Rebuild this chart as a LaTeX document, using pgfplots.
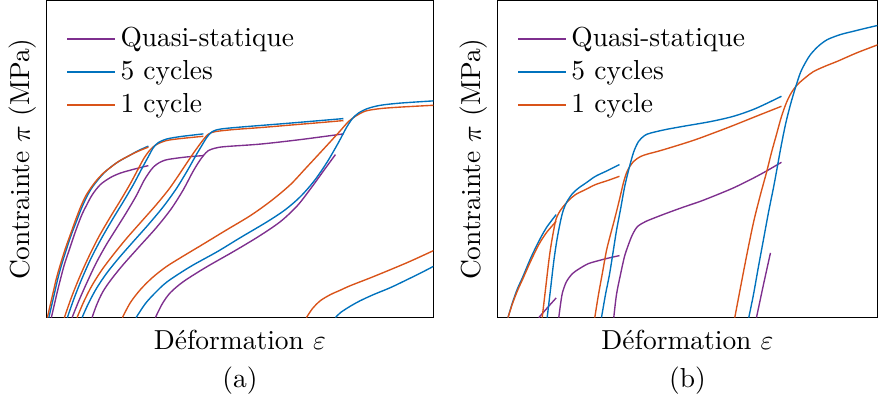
\documentclass[border=0pt]{standalone}
\usepackage{pgfplots}
\pgfplotsset{compat=1.18}
\definecolor{cqs}{RGB}{126,47,142}
\definecolor{cfive}{RGB}{0,114,189}
\definecolor{cone}{RGB}{217,83,25}
\begin{document}
\begin{tikzpicture}
\pgfplotsset{
  panel/.style={scale only axis, height=115.4pt, ymin=0, ymax=317, xmin=0,
    xtick=\empty, ytick=\empty,
    xlabel={D\'eformation $\varepsilon$}, ylabel={Contrainte $\pi$ (MPa)},
    xlabel style={at={(axis description cs:0.5,0)}, anchor=north, yshift=-1pt},
    ylabel style={at={(axis description cs:0,0.5)}, anchor=south},
    legend style={draw=none, fill=none, at={(axis description cs:0.03,0.952)}, anchor=north west, row sep=-0.5pt},
    legend cell align=left},
  qs/.style={cqs, line width=0.5pt, smooth, no marks},
  five/.style={cfive, line width=0.5pt, smooth, no marks},
  one/.style={cone, line width=0.5pt, smooth, no marks},
}
% ---------------- panel (a)
\begin{axis}[panel, name=A, width=140.9pt, xmax=387]
\addplot[qs] coordinates {(5,0)(8,13)(11,26)(14,38)(18,53)(23,68)(28,83)(32,94)(36,104)(40,112)(46,123)(54,133)(64,140)(74,144.5)(88,148.5)(102,152)};
\addlegendentry{Quasi-statique}
\addplot[five] coordinates {(2.5,0)(5.5,13)(8.5,26)(11.5,39)(15,52)(20,68)(25,83)(30,96)(35,109)(40,120)(45,129)(51,137)(58,145)(65,151)(73,156.5)(82,161.5)(92,167)(102,171.5)};
\addlegendentry{5 cycles}
\addplot[one] coordinates {(1,0)(4,13)(7,26)(10,39)(14,53)(19,69)(24,83)(29,97)(34,110)(39,121)(44,129)(50,137)(57,144.5)(64,150)(72,156)(81,161)(91,166)(102,170.5)};
\addlegendentry{1 cycle}
% cycle 2
\addplot[one, forget plot] coordinates {(18,0)(25,20)(33,40)(42,60)(52,80)(63,99)(74,117)(84,134)(92,149)(98,160)(104,168)(110,173)(120,177)(134,179)(157,181.3)};
\addplot[five, forget plot] coordinates {(21,0)(28,20)(36,40)(45,60)(55,79)(66,98)(77,116)(87,133)(96,150)(102,161)(107,170)(112,175)(120,178.5)(134,181)(157,183.7)};
\addplot[qs, forget plot] coordinates {(25.7,0)(33,18)(41,36)(50,55)(60,73)(70,89)(80,105)(90,122)(97,136)(102,144)(107,150.5)(113,155)(121,158)(139,160.5)(157,162)};
% cycle 3
\addplot[one, forget plot] coordinates {(30.7,0)(37,15)(45,31)(55,47)(67,63)(80,79)(95,96)(110,113)(123,129)(134,145)(144,160)(151,170)(157,178)(162,183.5)(169,186)(187,188)(214,190)(244,192.5)(274,195)(297,197)};
\addplot[five, forget plot] coordinates {(35.7,0)(42,14)(50,29)(60,44)(72,59)(86,75)(102,93)(117,111)(130,129)(141,147)(150,163)(156,173)(161,181)(166,186)(174,188.5)(194,190.5)(244,194.5)(297,199)};
\addplot[qs, forget plot] coordinates {(45.7,0)(50,12)(56,25)(64,37)(76,52)(92,70)(110,90)(125,109)(137,128)(146,145)(152,155)(157,162)(162,167)(169,169.5)(179,171)(214,173.5)(254,178)(297,183.7)};
% cycle 4
\addplot[one, forget plot] coordinates {(76,0)(84,15)(94,28)(106,40)(120,51)(136,61)(156,73)(179,87)(204,102)(225,117)(244,133)(259,149)(272,163)(284,176)(294,187)(302,196)(309,201.3)(319,206.5)(334,209)(354,210.5)(387,212.3)};
\addplot[five, forget plot] coordinates {(89.7,0)(99,14)(109,25)(121,36)(144,51)(171,66)(194,80)(221,96)(239,108)(254,121)(268,137)(281,156)(292,175)(300,190)(306,199)(312,204.5)(321,209)(334,212.3)(354,214.5)(387,216.7)};
\addplot[qs, forget plot] coordinates {(109,0)(116,14)(124,25)(137,36)(159,50)(187,66)(212,81)(234,96)(251,112)(265,130)(278,148)(289,163)};
% cycle 5
\addplot[one, forget plot] coordinates {(260,0)(266,9)(274,17)(284,23)(294,27.5)(304,32)(327,41)(360.7,55)(387,67)};
\addplot[five, forget plot] coordinates {(289,0)(294,5)(304,11.5)(314,17)(327,23)(344,30)(360.7,38)(374,44.5)(387,51.3)};
\end{axis}
\node[yshift=-23pt] at (A.south) {(a)};
% ---------------- panel (b)
\begin{axis}[panel, name=B, at={(164.2pt,0pt)}, anchor=south west, width=138.3pt, xmax=380]
\addplot[qs] coordinates {(41.3,0)(50,10)(58.7,19.7)};
\addlegendentry{Quasi-statique}
\addplot[five] coordinates {(10.5,0)(15,15)(20,29)(25,40)(33,59)(41.3,76.3)(49,90)(58.7,103)};
\addlegendentry{5 cycles}
\addplot[one] coordinates {(10.5,0)(15,14)(20,27)(25,38)(33,56)(41.3,73)(49,85)(58.7,96.3)};
\addlegendentry{1 cycle}
% cycle 2
\addplot[one, forget plot] coordinates {(44.7,0)(48,28)(51.3,56.3)(54,75)(58,96.3)(61,104)(64.7,109.7)(71,117)(78,123)(88,128)(98,133)(110,137)(122,141.3)};
\addplot[five, forget plot] coordinates {(49.7,0)(53,28)(56.3,56.3)(59.5,78)(63,96.3)(66,108)(69.7,116.3)(75,124)(81.3,129.7)(89,135)(98,141.3)(110,147)(122,153)};
\addplot[qs, forget plot] coordinates {(61.3,0)(63,13)(65,25)(69,36)(75,44)(82,49)(91,54)(103,57.5)(113,60)(122,62)};
% cycle 3
\addplot[one, forget plot] coordinates {(97.3,0)(101,23)(105,45)(109,67)(113,83)(117,98)(122,118)(126,135)(130,147)(136,156)(143,161)(150,163.5)(163,167)(186,174)(203,179.7)(233,191)(258,201)(284,211.3)};
\addplot[five, forget plot] coordinates {(104,0)(108,23)(112,43)(116,68)(119,87)(123,108)(127,130)(131,147)(136,165)(141,176)(147,182)(153,184.5)(168,188)(186,191.3)(213,196)(236,201.3)(258,209)(284,221.3)};
\addplot[qs, forget plot] coordinates {(116.3,0)(119,23)(123,43)(127,61)(131,73)(135,83)(140,91)(148,96)(159,100.5)(170,104.7)(186,110.5)(203,116.3)(220,123)(236,129.7)(253,138)(268,146)(284,155.3)};
% cycle 4
\addplot[one, forget plot] coordinates {(237.3,0)(243,30)(249,61)(256,95)(263,123)(269,145)(274,165)(279,183)(284,201)(289,215)(294,225)(300,233)(308,240)(316,246)(328,251.5)(340,256.3)(360,265)(381,273)};
\addplot[five, forget plot] coordinates {(251.3,0)(256,23)(261,51)(266,78)(271,105)(277,135)(283,168)(288,193)(293,213)(298,230)(303,245)(308,255)(313,263)(321,271.5)(330,278)(343,283)(356,286.3)(369,289.5)(381,292.3)};
\addplot[qs, forget plot] coordinates {(259,0)(266,33)(273,64.7)};
\end{axis}
\node[yshift=-23pt] at (B.south) {(b)};
\end{tikzpicture}
\end{document}
